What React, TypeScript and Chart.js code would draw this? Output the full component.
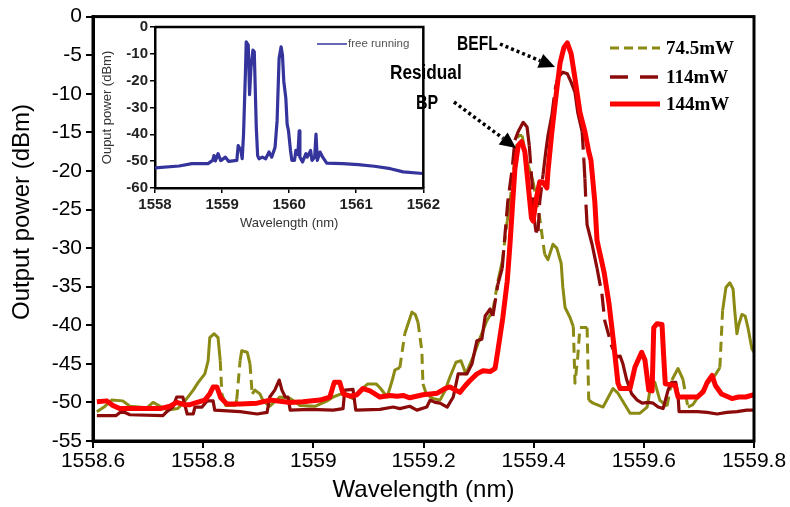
import React, { useEffect, useRef } from "react";
import { Chart, registerables } from "chart.js";
Chart.register(...registerables);

// ---------- main chart data ----------
const xTickValues = [1558.6, 1558.8, 1559.0, 1559.2, 1559.4, 1559.6, 1559.8];
const seriesNames = ["74.5mW", "114mW", "144mW"];
const yTitle = "Output power (dBm)";

const wl745 = [
  1558.607, 1558.620, 1558.634, 1558.654, 1558.667, 1558.698, 1558.709, 1558.722, 1558.736, 1558.754,
  1558.767, 1558.782, 1558.791, 1558.803, 1558.809, 1558.812, 1558.820, 1558.827, 1558.831, 1558.834,
  1558.841, 1558.858, 1558.861, 1558.867, 1558.870, 1558.880, 1558.885, 1558.889, 1558.894, 1558.903,
  1558.909, 1558.921, 1558.939, 1558.958, 1558.976, 1559.003, 1559.025, 1559.036, 1559.054, 1559.072,
  1559.085, 1559.099, 1559.114, 1559.121, 1559.134, 1559.143, 1559.148, 1559.157, 1559.166, 1559.172,
  1559.179, 1559.185, 1559.190, 1559.197, 1559.199, 1559.205, 1559.217, 1559.230, 1559.239, 1559.248,
  1559.259, 1559.268, 1559.277, 1559.290, 1559.303, 1559.315, 1559.326, 1559.335, 1559.343, 1559.352,
  1559.357, 1559.365, 1559.372, 1559.379, 1559.388, 1559.399, 1559.411, 1559.420, 1559.426, 1559.435,
  1559.442, 1559.450, 1559.453, 1559.457, 1559.466, 1559.472, 1559.475, 1559.480, 1559.484, 1559.497,
  1559.500, 1559.508, 1559.526, 1559.544, 1559.553, 1559.575, 1559.593, 1559.606, 1559.611, 1559.620,
  1559.629, 1559.642, 1559.651, 1559.662, 1559.671, 1559.680, 1559.689, 1559.702, 1559.715, 1559.729,
  1559.738, 1559.743, 1559.749, 1559.756, 1559.762, 1559.765, 1559.769, 1559.772, 1559.778, 1559.784,
  1559.789, 1559.796, 1559.800,
];
const p745 = [
  -51.2, -50.6, -49.7, -49.8, -50.5, -50.7, -50.0, -50.5, -51.0, -50.8,
  -49.8, -48.4, -47.4, -46.3, -44.6, -41.6, -41.1, -41.6, -44.6, -48.9,
  -50.4, -50.4, -49.6, -44.6, -43.3, -43.5, -45.0, -48.9, -48.4, -48.9,
  -49.8, -50.5, -49.3, -49.5, -50.4, -50.5, -49.8, -49.3, -48.8, -49.5,
  -48.4, -47.6, -47.6, -48.1, -49.3, -47.2, -45.8, -45.5, -41.1, -39.8,
  -38.3, -38.6, -39.6, -43.3, -47.6, -48.9, -49.5, -49.7, -48.5, -46.7,
  -44.8, -44.6, -46.3, -44.1, -41.6, -39.4, -38.1, -34.3, -31.7, -26.5,
  -24.0, -19.0, -15.4, -15.4, -18.8, -21.4, -26.1, -30.8, -31.5, -29.5,
  -30.0, -32.0, -35.1, -37.7, -39.0, -40.2, -47.5, -44.1, -40.3, -40.3,
  -49.7, -50.1, -50.6, -48.2, -48.8, -51.4, -51.4, -50.6, -48.5, -47.4,
  -49.7, -50.5, -47.1, -45.6, -47.0, -50.6, -50.3, -48.9, -47.6, -46.5,
  -45.5, -38.1, -35.1, -34.5, -35.3, -38.1, -41.1, -40.0, -38.6, -38.8,
  -40.3, -43.0, -43.5,
];

const wl114 = [
  1558.607, 1558.642, 1558.649, 1558.658, 1558.667, 1558.727, 1558.734, 1558.745, 1558.752, 1558.763,
  1558.771, 1558.782, 1558.785, 1558.798, 1558.807, 1558.818, 1558.821, 1558.867, 1558.898, 1558.916,
  1558.921, 1558.930, 1558.938, 1558.943, 1558.949, 1558.954, 1558.958, 1558.994, 1559.036, 1559.054,
  1559.057, 1559.072, 1559.077, 1559.121, 1559.145, 1559.157, 1559.175, 1559.188, 1559.206, 1559.212,
  1559.221, 1559.230, 1559.243, 1559.254, 1559.263, 1559.279, 1559.288, 1559.297, 1559.306, 1559.312,
  1559.321, 1559.326, 1559.335, 1559.343, 1559.348, 1559.353, 1559.361, 1559.366, 1559.372, 1559.381,
  1559.388, 1559.392, 1559.397, 1559.401, 1559.404, 1559.408, 1559.411, 1559.417, 1559.422, 1559.426,
  1559.433, 1559.439, 1559.444, 1559.453, 1559.461, 1559.468, 1559.475, 1559.480, 1559.488, 1559.491,
  1559.493, 1559.495, 1559.497, 1559.506, 1559.515, 1559.524, 1559.529, 1559.542, 1559.551, 1559.557,
  1559.562, 1559.569, 1559.578, 1559.588, 1559.597, 1559.608, 1559.617, 1559.626, 1559.635, 1559.644,
  1559.651, 1559.658, 1559.662, 1559.664, 1559.697, 1559.715, 1559.733, 1559.751, 1559.769, 1559.787,
  1559.800,
];
const p114 = [
  -51.7, -51.7, -51.3, -51.3, -51.6, -51.7, -51.2, -50.6, -49.3, -49.3,
  -51.5, -51.5, -50.6, -50.6, -49.8, -49.8, -51.0, -51.2, -51.5, -51.3,
  -49.3, -48.4, -47.1, -48.4, -49.3, -49.3, -51.0, -50.9, -51.0, -50.8,
  -48.4, -48.3, -51.0, -50.9, -50.6, -50.8, -50.5, -51.0, -50.6, -49.7,
  -50.0, -50.1, -50.6, -49.3, -46.3, -46.3, -45.0, -42.0, -41.8, -38.8,
  -37.9, -38.8, -34.7, -32.6, -28.2, -24.0, -19.7, -16.0, -14.9, -13.7,
  -14.3, -16.7, -21.5, -26.1, -27.8, -27.8, -24.0, -20.5, -17.5, -15.4,
  -12.8, -9.4, -7.9, -7.2, -7.4, -8.5, -9.8, -12.4, -14.9, -18.4,
  -21.0, -24.4, -27.0, -29.5, -32.6, -36.0, -39.4, -42.8, -44.1, -44.0,
  -45.0, -47.1, -48.9, -49.7, -50.1, -50.0, -50.1, -50.6, -50.8, -48.4,
  -47.4, -47.4, -49.0, -51.2, -51.2, -51.3, -51.5, -51.3, -51.2, -51.0,
  -51.0,
];

const wl144 = [
  1558.607, 1558.625, 1558.636, 1558.649, 1558.685, 1558.722, 1558.740, 1558.752, 1558.767, 1558.776,
  1558.789, 1558.803, 1558.812, 1558.818, 1558.825, 1558.832, 1558.843, 1558.867, 1558.898, 1558.921,
  1558.958, 1558.981, 1559.012, 1559.030, 1559.038, 1559.048, 1559.054, 1559.067, 1559.079, 1559.090,
  1559.103, 1559.121, 1559.139, 1559.152, 1559.163, 1559.175, 1559.199, 1559.225, 1559.239, 1559.248,
  1559.266, 1559.275, 1559.284, 1559.297, 1559.308, 1559.321, 1559.330, 1559.335, 1559.344, 1559.352,
  1559.357, 1559.362, 1559.366, 1559.372, 1559.378, 1559.384, 1559.390, 1559.396, 1559.399, 1559.405,
  1559.411, 1559.417, 1559.424, 1559.426, 1559.433, 1559.441, 1559.448, 1559.455, 1559.461, 1559.468,
  1559.475, 1559.484, 1559.493, 1559.500, 1559.504, 1559.511, 1559.515, 1559.520, 1559.528, 1559.537,
  1559.546, 1559.553, 1559.557, 1559.575, 1559.584, 1559.596, 1559.602, 1559.609, 1559.615, 1559.618,
  1559.624, 1559.633, 1559.636, 1559.639, 1559.657, 1559.662, 1559.697, 1559.708, 1559.715, 1559.724,
  1559.730, 1559.741, 1559.760, 1559.772, 1559.785, 1559.800,
];
const p144 = [
  -49.9, -49.8, -50.4, -50.8, -50.8, -50.8, -50.5, -50.0, -50.3, -50.3,
  -50.0, -49.7, -48.9, -48.0, -48.0, -49.4, -50.2, -50.2, -50.1, -49.7,
  -50.0, -49.9, -49.7, -49.3, -47.4, -47.4, -48.9, -49.2, -49.0, -48.2,
  -48.5, -49.3, -49.1, -49.2, -49.1, -49.4, -49.0, -48.8, -48.2, -48.0,
  -48.7, -47.9, -47.2, -46.3, -45.9, -46.0, -45.6, -43.3, -39.0, -34.3,
  -29.5, -24.0, -19.7, -16.7, -16.2, -17.5, -21.8, -26.1, -26.5, -23.5,
  -21.4, -21.5, -22.2, -20.0, -15.0, -10.0, -6.0, -4.0, -3.4, -4.8,
  -8.0, -12.4, -14.9, -17.5, -18.6, -24.0, -29.0, -30.6, -33.2, -37.3,
  -42.8, -47.5, -48.2, -48.2, -45.4, -43.5, -44.5, -48.4, -48.5, -40.3,
  -39.8, -39.9, -44.0, -47.6, -47.8, -49.3, -49.3, -48.6, -47.4, -46.5,
  -47.8, -48.9, -49.5, -49.3, -49.3, -49.0,
];

// ---------- inset (free running) data ----------
const insetTickValues = [1558, 1559, 1560, 1561, 1562];
const insetLabel = "free running";
const wlFree = [
  1558.0, 1558.36, 1558.55, 1558.79, 1558.86, 1558.88, 1558.9, 1558.94, 1558.98, 1559.05,
  1559.1, 1559.22, 1559.24, 1559.28, 1559.3, 1559.32, 1559.35, 1559.36, 1559.39, 1559.41,
  1559.43, 1559.46, 1559.48, 1559.51, 1559.53, 1559.55, 1559.6, 1559.65, 1559.7, 1559.74,
  1559.79, 1559.82, 1559.85, 1559.88, 1559.9, 1559.92, 1559.95, 1559.97, 1559.99, 1560.02,
  1560.04, 1560.08, 1560.1, 1560.13, 1560.15, 1560.16, 1560.2, 1560.25, 1560.27, 1560.32,
  1560.34, 1560.38, 1560.4, 1560.42, 1560.46, 1560.5, 1560.56, 1560.8, 1561.03, 1561.27,
  1561.51, 1561.7, 1561.99,
];
const pFree = [
  -52.5, -51.8, -50.9, -50.9, -49.7, -47.9, -49.9, -47.2, -49.8, -48.5,
  -50.1, -49.7, -44.2, -46.0, -49.1, -39.9, -15.3, -5.5, -6.7, -25.2,
  -15.3, -8.6, -9.2, -37.4, -47.9, -49.1, -48.5, -49.1, -46.6, -48.5,
  -44.8, -35.0, -11.7, -7.4, -10.4, -20.2, -26.4, -36.2, -38.7, -46.0,
  -49.7, -49.7, -46.0, -47.5, -38.7, -48.5, -50.3, -47.2, -48.5, -46.0,
  -49.7, -48.5, -39.9, -49.7, -46.6, -48.5, -50.7, -50.9, -51.3, -51.9,
  -52.8, -54.0, -54.6,
];

const OLIVE = "#8A8A14";
const DARKRED = "#8B0A0A";
const RED = "#FF0000";
const BLUE = "#34349C";
const SANS = '"Liberation Sans", Arial, sans-serif';
const SERIF = '"Liberation Serif", "Times New Roman", serif';

const pts = (xs: number[], ys: number[]) => xs.map((x, i) => ({ x, y: ys[i] }));
const fmt = (v: number) => String(Number(Number(v).toFixed(1)));

function steepDash(dash: number[]) {
  return (c: any) => {
    const dx = Math.abs(c.p1.x - c.p0.x);
    const dy = Math.abs(c.p1.y - c.p0.y);
    return dy > 26 && dy > 1.5 * dx ? dash : undefined;
  };
}

function dottedArrow(ctx: CanvasRenderingContext2D, x0: number, y0: number, x1: number, y1: number) {
  const dx = x1 - x0, dy = y1 - y0, L = Math.hypot(dx, dy);
  const ux = dx / L, uy = dy / L;
  const hl = 16, hw = 7.5;
  const bx = x1 - ux * hl, by = y1 - uy * hl;
  ctx.save();
  ctx.strokeStyle = "#000";
  ctx.fillStyle = "#000";
  ctx.lineWidth = 3.5;
  ctx.setLineDash([3, 3]);
  ctx.beginPath();
  ctx.moveTo(x0, y0);
  ctx.lineTo(bx, by);
  ctx.stroke();
  ctx.setLineDash([]);
  ctx.beginPath();
  ctx.moveTo(x1, y1);
  ctx.lineTo(bx - uy * hw, by + ux * hw);
  ctx.lineTo(bx + uy * hw, by - ux * hw);
  ctx.closePath();
  ctx.fill();
  ctx.restore();
}

function condensedText(ctx: CanvasRenderingContext2D, text: string, x: number, y: number, sx: number) {
  ctx.save();
  ctx.translate(x, y);
  ctx.scale(sx, 1);
  ctx.fillText(text, 0, 0);
  ctx.restore();
}

const mainDecor = {
  id: "mainDecor",
  afterDraw(chart: any) {
    const { ctx, chartArea: a } = chart;
    ctx.save();
    ctx.strokeStyle = "#000";
    ctx.lineWidth = 3;
    ctx.setLineDash([]);
    ctx.strokeRect(a.left, a.top, a.right - a.left, a.bottom - a.top);

    // y-axis title
    ctx.save();
    ctx.translate(22, 212);
    ctx.rotate(-Math.PI / 2);
    ctx.fillStyle = "#000";
    ctx.font = `24px ${SANS}`;
    ctx.textAlign = "center";
    ctx.textBaseline = "middle";
    ctx.fillText(yTitle, 0, 0);
    ctx.restore();

    // legend
    const rows = [48, 77, 104];
    const styles = [
      { c: OLIVE, w: 3, d: [9, 5] },
      { c: DARKRED, w: 3.5, d: [18, 12] },
      { c: RED, w: 5, d: [] as number[] },
    ];
    styles.forEach((s, i) => {
      ctx.strokeStyle = s.c;
      ctx.lineWidth = s.w;
      ctx.setLineDash(s.d);
      ctx.beginPath();
      ctx.moveTo(610, rows[i]);
      ctx.lineTo(660, rows[i]);
      ctx.stroke();
      ctx.setLineDash([]);
      ctx.fillStyle = "#000";
      ctx.font = `bold 19px ${SERIF}`;
      ctx.textAlign = "left";
      ctx.textBaseline = "middle";
      ctx.fillText(seriesNames[i], 666, rows[i] + 1);
    });

    // annotations
    ctx.fillStyle = "#000";
    ctx.font = `bold 20px ${SANS}`;
    ctx.textBaseline = "middle";
    ctx.textAlign = "left";
    condensedText(ctx, "BEFL", 457, 44, 0.78);
    condensedText(ctx, "Residual", 390, 73, 0.86);
    condensedText(ctx, "BP", 416, 103, 0.8);
    ctx.restore();
    dottedArrow(ctx, 500, 44, 555, 67);
    dottedArrow(ctx, 454, 102, 516, 148);
  },
};

const insetDecor = {
  id: "insetDecor",
  afterDraw(chart: any) {
    const { ctx, chartArea: a } = chart;
    ctx.save();
    ctx.strokeStyle = "#000";
    ctx.lineWidth = 2.5;
    ctx.beginPath();
    ctx.moveTo(a.left, a.top);
    ctx.lineTo(a.right, a.top);
    ctx.lineTo(a.right, a.bottom);
    ctx.stroke();
    ctx.strokeStyle = BLUE;
    ctx.lineWidth = 1.5;
    ctx.beginPath();
    ctx.moveTo(219, 28);
    ctx.lineTo(249, 28);
    ctx.stroke();
    ctx.fillStyle = "#555";
    ctx.font = `11.5px ${SANS}`;
    ctx.textAlign = "left";
    ctx.textBaseline = "middle";
    ctx.fillText(insetLabel, 250, 28);
    ctx.restore();
  },
};

export default function App() {
  const mainRef = useRef<HTMLCanvasElement>(null);
  const insetRef = useRef<HTMLCanvasElement>(null);

  useEffect(() => {
    document.body.style.margin = "0";
    const main = new Chart(mainRef.current as HTMLCanvasElement, {
      type: "line",
      data: {
        datasets: [
          {
            label: seriesNames[2],
            data: pts(wl144, p144),
            borderColor: RED,
            borderWidth: 5,
            pointRadius: 0,
            tension: 0,
            borderJoinStyle: "round",
          },
          {
            label: seriesNames[1],
            data: pts(wl114, p114),
            borderColor: DARKRED,
            borderWidth: 3.2,
            pointRadius: 0,
            tension: 0,
            borderJoinStyle: "round",
            segment: { borderDash: steepDash([18, 8]) },
          },
          {
            label: seriesNames[0],
            data: pts(wl745, p745),
            borderColor: OLIVE,
            borderWidth: 3,
            pointRadius: 0,
            tension: 0,
            borderJoinStyle: "round",
            segment: { borderDash: steepDash([10, 6]) },
          },
        ],
      } as any,
      options: {
        animation: false,
        responsive: false,
        devicePixelRatio: 1,
        layout: { padding: { left: 0, right: 36, top: 14, bottom: 0 } },
        plugins: { legend: { display: false }, tooltip: { enabled: false } },
        scales: {
          x: {
            type: "linear",
            min: 1558.6,
            max: 1559.8,
            afterBuildTicks: (s: any) => {
              s.ticks = xTickValues.map((v) => ({ value: v }));
            },
            afterFit: (s: any) => {
              s.height = 66;
            },
            ticks: {
              color: "#000",
              font: { family: SANS, size: 21 },
              padding: 1,
              maxRotation: 0,
              autoSkip: false,
              callback: (v: any) => fmt(v),
            },
            grid: { display: true, drawOnChartArea: false, drawTicks: true, tickLength: 7, color: "#000", lineWidth: 2 },
            border: { display: true, color: "#000", width: 3 },
            title: { display: true, text: "Wavelength (nm)", color: "#000", font: { family: SANS, size: 24 }, padding: { top: 0, bottom: 2 } },
          },
          y: {
            type: "linear",
            min: -55,
            max: 0,
            afterFit: (s: any) => {
              s.width = 93;
            },
            ticks: {
              stepSize: 5,
              color: "#000",
              font: { family: SANS, size: 21 },
              padding: 4,
              callback: (v: any) => fmt(v),
            },
            grid: { display: true, drawOnChartArea: false, drawTicks: true, tickLength: 7, color: "#000", lineWidth: 2 },
            border: { display: true, color: "#000", width: 3 },
            title: { display: false, text: yTitle },
          },
        },
      } as any,
      plugins: [mainDecor],
    });

    const inset = new Chart(insetRef.current as HTMLCanvasElement, {
      type: "line",
      data: {
        datasets: [
          {
            label: insetLabel,
            data: pts(wlFree, pFree),
            borderColor: BLUE,
            borderWidth: 3.2,
            pointRadius: 0,
            tension: 0,
            borderJoinStyle: "round",
          },
        ],
      } as any,
      options: {
        animation: false,
        responsive: false,
        devicePixelRatio: 1,
        layout: { padding: { left: 0, right: 9, top: 9, bottom: 0 } },
        plugins: { legend: { display: false }, tooltip: { enabled: false } },
        scales: {
          x: {
            type: "linear",
            min: 1558,
            max: 1562,
            afterBuildTicks: (s: any) => {
              s.ticks = insetTickValues.map((v) => ({ value: v }));
            },
            afterFit: (s: any) => {
              s.height = 46;
            },
            ticks: { color: "#222", font: { family: SANS, size: 15, weight: "bold" }, padding: 3, maxRotation: 0, autoSkip: false, callback: (v: any) => fmt(v) },
            grid: { display: true, drawOnChartArea: false, drawTicks: true, tickLength: 5, color: "#000", lineWidth: 1.5 },
            border: { display: true, color: "#000", width: 2.5 },
            title: { display: true, text: "Wavelength (nm)", color: "#333", font: { family: SANS, size: 13 }, padding: { top: 0, bottom: 3 } },
          },
          y: {
            type: "linear",
            min: -60,
            max: 0,
            afterFit: (s: any) => {
              s.width = 57;
            },
            ticks: { stepSize: 10, color: "#222", font: { family: SANS, size: 15, weight: "bold" }, padding: 2, callback: (v: any) => fmt(v) },
            grid: { display: true, drawOnChartArea: false, drawTicks: true, tickLength: 5, color: "#000", lineWidth: 1.5 },
            border: { display: true, color: "#000", width: 2.5 },
            title: { display: true, text: "Ouput power (dBm)", color: "#333", font: { family: SANS, size: 13 }, padding: { top: 2, bottom: 0 } },
          },
        },
      } as any,
      plugins: [insetDecor],
    });

    return () => {
      main.destroy();
      inset.destroy();
    };
  }, []);

  return (
    <div style={{ position: "relative", width: 790, height: 507, background: "#fff" }}>
      <canvas ref={mainRef} width={790} height={507} style={{ position: "absolute", left: 0, top: 0, width: 790, height: 507 }} />
      <canvas ref={insetRef} width={345} height={218} style={{ position: "absolute", left: 98, top: 16, width: 345, height: 218 }} />
    </div>
  );
}
